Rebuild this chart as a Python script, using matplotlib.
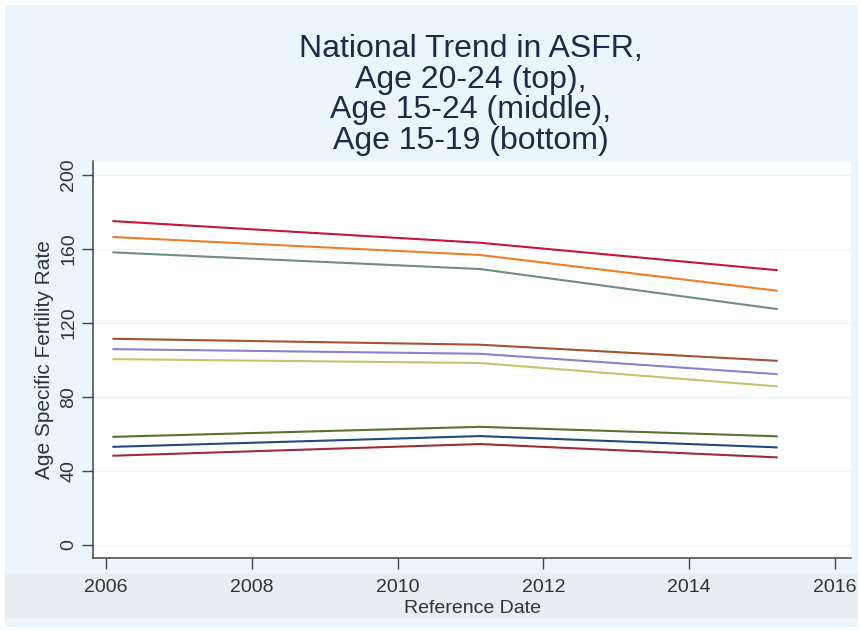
import matplotlib
matplotlib.use("Agg")
import matplotlib.pyplot as plt
from matplotlib import font_manager
from matplotlib.patches import Rectangle

# survey reference dates
years = [2006.1, 2011.13, 2015.2]

# age 20-24 (top)
top_red = [175.1, 163.4, 148.6]
top_orange = [166.5, 156.8, 137.5]
top_teal = [158.2, 149.2, 127.6]
# age 15-24 (middle)
mid_brown = [111.5, 108.3, 99.6]
mid_purple = [105.9, 103.4, 92.4]
mid_khaki = [100.5, 98.4, 85.8]
# age 15-19 (bottom)
bot_green = [58.5, 63.9, 58.8]
bot_navy = [53.1, 58.9, 52.8]
bot_darkred = [48.3, 54.6, 47.4]

series = [top_red, top_orange, top_teal, mid_brown, mid_purple, mid_khaki,
          bot_green, bot_navy, bot_darkred]
colors = ["#C4163A", "#EC7F2A", "#6E8C8A", "#A4532F", "#8B80C9", "#CBC071",
          "#5B7131", "#1F4A7E", "#9C2C37"]

xticks = [2006, 2008, 2010, 2012, 2014, 2016]
yticks = [0, 40, 80, 120, 160, 200]

names = [f.name for f in font_manager.fontManager.ttflist]
fam = "Liberation Sans Narrow" if "Liberation Sans Narrow" in names else "Liberation Sans"
plt.rcParams['font.family'] = [fam, 'DejaVu Sans']

fig = plt.figure(figsize=(8.61, 6.31), dpi=100)
fig.patch.set_facecolor("white")
W, H = 861, 631
fig.patches.append(Rectangle((5 / W, 4 / H), 853 / W, 622 / H, transform=fig.transFigure,
                             facecolor="#EAF6FC", edgecolor="none", zorder=-10))
fig.patches.append(Rectangle((5 / W, 1 - 619 / H), 853 / W, 46 / H, transform=fig.transFigure,
                             facecolor="#E8EEF1", edgecolor="none", zorder=-9))

ax = fig.add_axes([93 / W, 1 - 558 / H, 758 / W, 397 / H])
ax.set_facecolor("white")

for s, c in zip(series, colors):
    ax.plot(years, s, color=c, lw=1.5)

ax.set_xlim(2005.82, 2016.22)
ax.set_ylim(-7, 207.6)
ax.set_xticks(xticks)
ax.set_yticks(yticks)
ax.grid(axis="y", color="#EAF3F8", lw=1)
ax.set_axisbelow(True)

for sp in ["top", "right"]:
    ax.spines[sp].set_visible(False)
for sp in ["left", "bottom"]:
    ax.spines[sp].set_color("#444444")
    ax.spines[sp].set_linewidth(1.1)

ax.tick_params(axis="both", direction="out", length=8, width=1, color="#444444",
               labelcolor="#333333", labelsize=14)
ax.tick_params(axis="x", pad=7)
for lab in ax.get_yticklabels():
    lab.set_rotation(90)
    lab.set_va("center")

ax.set_xlabel("Reference Date", fontsize=14, color="#333333", labelpad=3)
ax.set_ylabel("Age Specific Fertility Rate", fontsize=15, color="#333333", labelpad=4)

fig.text(471 / W, 1 - 95 / H,
         "National Trend in ASFR,\nAge 20-24 (top),\nAge 15-24 (middle),\nAge 15-19 (bottom)",
         ha="center", va="center", fontsize=23, color="#1E2A48", linespacing=1.03)

fig.savefig("out.png", dpi=100)
